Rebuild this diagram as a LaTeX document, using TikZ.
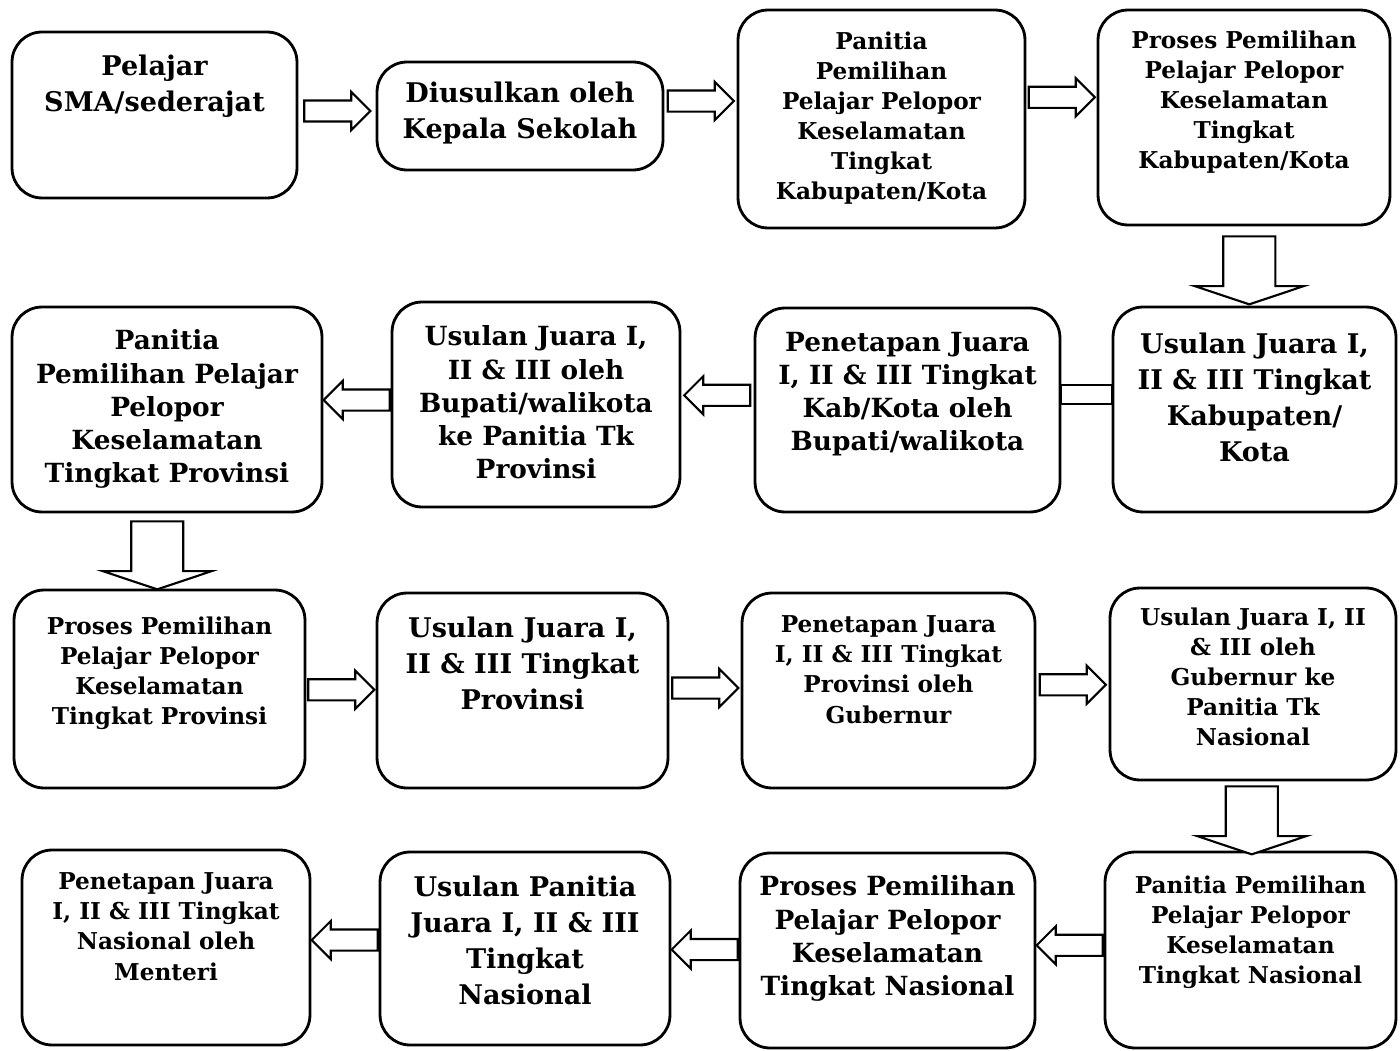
\documentclass[tikz,border=0pt]{standalone}
\usepackage{fontspec}
\setmainfont{DejaVu Serif}
\usetikzlibrary{positioning,calc,shapes.arrows}

\begin{document}
\begin{tikzpicture}[x=0.02cm, y=-0.02cm,
		box node/.style={rectangle,rounded corners=0.6cm,draw,line width=1.6pt},
		text node/.style={align=center,inner sep=0pt,font=\bfseries},
		small text/.style={font=\bfseries\fontsize{13.2}{17.1}\selectfont},
		mid text/.style={font=\bfseries\fontsize{15}{18.8}\selectfont},
		big text/.style={font=\bfseries\fontsize{15.4}{20.5}\selectfont},
		side arrow/.style={single arrow,draw,fill=white,line width=1.2pt,inner xsep=0pt,inner ysep=0.19cm,
			single arrow head extend=0.17cm,single arrow head indent=0pt,minimum width=0pt,minimum height=1.32cm,
			xshift=-0.1cm},
		left arrow/.style={side arrow,rotate=180,xshift=-0.2cm},
		down arrow/.style={single arrow,draw,fill=white,line width=1.2pt,inner xsep=0pt,inner ysep=0.5cm,
			single arrow head extend=0.57cm,single arrow head indent=0pt,single arrow tip angle=143,
			minimum width=0pt,minimum height=1.36cm,rotate=-90}]
		
		\useasboundingbox (0,0) rectangle (1400,1051);
		
		% row 1
		\node[box node,minimum width=5.70cm,minimum height=3.32cm] (b1) at (154.5,115) {};
		\node[box node,minimum width=5.72cm,minimum height=2.16cm] (b2) at (520,116) {};
		\node[box node,minimum width=5.74cm,minimum height=4.36cm] (b3) at (881.5,119) {};
		\node[box node,minimum width=5.84cm,minimum height=4.30cm] (b4) at (1244,117.5) {};
		% row 2
		\node[box node,minimum width=5.66cm,minimum height=4.10cm] (b5) at (1254.5,409.5) {};
		\node[box node,minimum width=6.10cm,minimum height=4.08cm] (b6) at (907.5,410) {};
		\node[box node,minimum width=5.76cm,minimum height=4.10cm] (b7) at (536,404.5) {};
		\node[box node,minimum width=6.20cm,minimum height=4.10cm] (b8) at (167,409.5) {};
		% row 3
		\node[box node,minimum width=5.82cm,minimum height=3.96cm] (b9) at (159.5,689) {};
		\node[box node,minimum width=5.82cm,minimum height=3.90cm] (b10) at (522.5,690.5) {};
		\node[box node,minimum width=5.86cm,minimum height=3.90cm] (b11) at (888.5,690.5) {};
		\node[box node,minimum width=5.72cm,minimum height=3.84cm] (b12) at (1253,684) {};
		% row 4
		\node[box node,minimum width=5.82cm,minimum height=3.92cm] (b13) at (1250.5,950) {};
		\node[box node,minimum width=5.90cm,minimum height=3.90cm] (b14) at (887.5,950.5) {};
		\node[box node,minimum width=5.80cm,minimum height=3.86cm] (b15) at (525,948.5) {};
		\node[box node,minimum width=5.76cm,minimum height=3.90cm] (b16) at (166,947.5) {};
		
		% texts
		\node[text node,big text,below=0.48cm of b1.north] (t1) {Pelajar\\SMA/sederajat};
		\node[text node,big text,below=0.42cm of b2.north] (t2) {Diusulkan oleh\\Kepala Sekolah};
		\node[text node,small text,below=0.46cm of b3.north] (t3) {Panitia\\Pemilihan\\Pelajar Pelopor\\Keselamatan\\Tingkat\\Kabupaten/Kota};
		\node[text node,small text,below=0.44cm of b4.north] (t4) {Proses Pemilihan\\Pelajar Pelopor\\Keselamatan\\Tingkat\\Kabupaten/Kota};
		\node[text node,big text,below=0.54cm of b5.north] (t5) {Usulan Juara I,\\II \& III Tingkat\\Kabupaten/\\Kota};
		\node[text node,mid text,below=0.50cm of b6.north] (t6) {Penetapan Juara\\I, II \& III Tingkat\\Kab/Kota oleh\\Bupati/walikota};
		\node[text node,mid text,below=0.50cm of b7.north] (t7) {Usulan Juara I,\\II \& III oleh\\Bupati/walikota\\ke Panitia Tk\\Provinsi};
		\node[text node,mid text,below=0.48cm of b8.north] (t8) {Panitia\\Pemilihan Pelajar\\Pelopor\\Keselamatan\\Tingkat Provinsi};
		\node[text node,small text,below=0.56cm of b9.north] (t9) {Proses Pemilihan\\Pelajar Pelopor\\Keselamatan\\Tingkat Provinsi};
		\node[text node,big text,below=0.50cm of b10.north] (t10) {Usulan Juara I,\\II \& III Tingkat\\Provinsi};
		\node[text node,small text,below=0.48cm of b11.north] (t11) {Penetapan Juara\\I, II \& III Tingkat\\Provinsi oleh\\Gubernur};
		\node[text node,small text,below=0.42cm of b12.north] (t12) {Usulan Juara I, II\\\& III oleh\\Gubernur ke\\Panitia Tk\\Nasional};
		\node[text node,small text,below=0.50cm of b13.north] (t13) {Panitia Pemilihan\\Pelajar Pelopor\\Keselamatan\\Tingkat Nasional};
		\node[text node,mid text,below=0.48cm of b14.north] (t14) {Proses Pemilihan\\Pelajar Pelopor\\Keselamatan\\Tingkat Nasional};
		\node[text node,big text,below=0.50cm of b15.north] (t15) {Usulan Panitia\\Juara I, II \& III\\Tingkat\\Nasional};
		\node[text node,small text,below=0.48cm of b16.north] (t16) {Penetapan Juara\\I, II \& III Tingkat\\Nasional oleh\\Menteri};
		
		% arrows
		\node[side arrow,yshift=0.09cm] (a1) at ($(b1.east)!.5!(b2.west)$) {};
		\node[side arrow,yshift=0.33cm] (a2) at ($(b2.east)!.5!(b3.west)$) {};
		\node[side arrow,yshift=0.42cm] (a3) at ($(b3.east)!.5!(b4.west)$) {};
		\node[down arrow] (a4) at ($(b4.south)!.5!(b5.north)$) {};
		\node[draw,line width=1.2pt,inner sep=0pt,minimum width=1.02cm,minimum height=0.38cm,yshift=0.3cm] (a5) at ($(b5.west)!.5!(b6.east)$) {};
		\node[left arrow,yshift=-0.24cm] (a6) at ($(b6.west)!.5!(b7.east)$) {};
		\node[left arrow,yshift=-0.14cm] (a7) at ($(b7.west)!.5!(b8.east)$) {};
		\node[down arrow,yshift=-0.12cm] (a8) at ($(b8.south)!.5!(b9.north)$) {};
		\node[side arrow] (a9) at ($(b9.east)!.5!(b10.west)$) {};
		\node[side arrow,yshift=0.05cm] (a10) at ($(b10.east)!.5!(b11.west)$) {};
		\node[side arrow,yshift=0.05cm] (a11) at ($(b11.east)!.5!(b12.west)$) {};
		\node[down arrow] (a12) at ($(b12.south)!.5!(b13.north)$) {};
		\node[left arrow,yshift=-0.1cm] (a13) at ($(b13.west)!.5!(b14.east)$) {};
		\node[left arrow] (a14) at ($(b14.west)!.5!(b15.east)$) {};
		\node[left arrow,yshift=-0.16cm] (a15) at ($(b15.west)!.5!(b16.east)$) {};
\end{tikzpicture}
\end{document}
